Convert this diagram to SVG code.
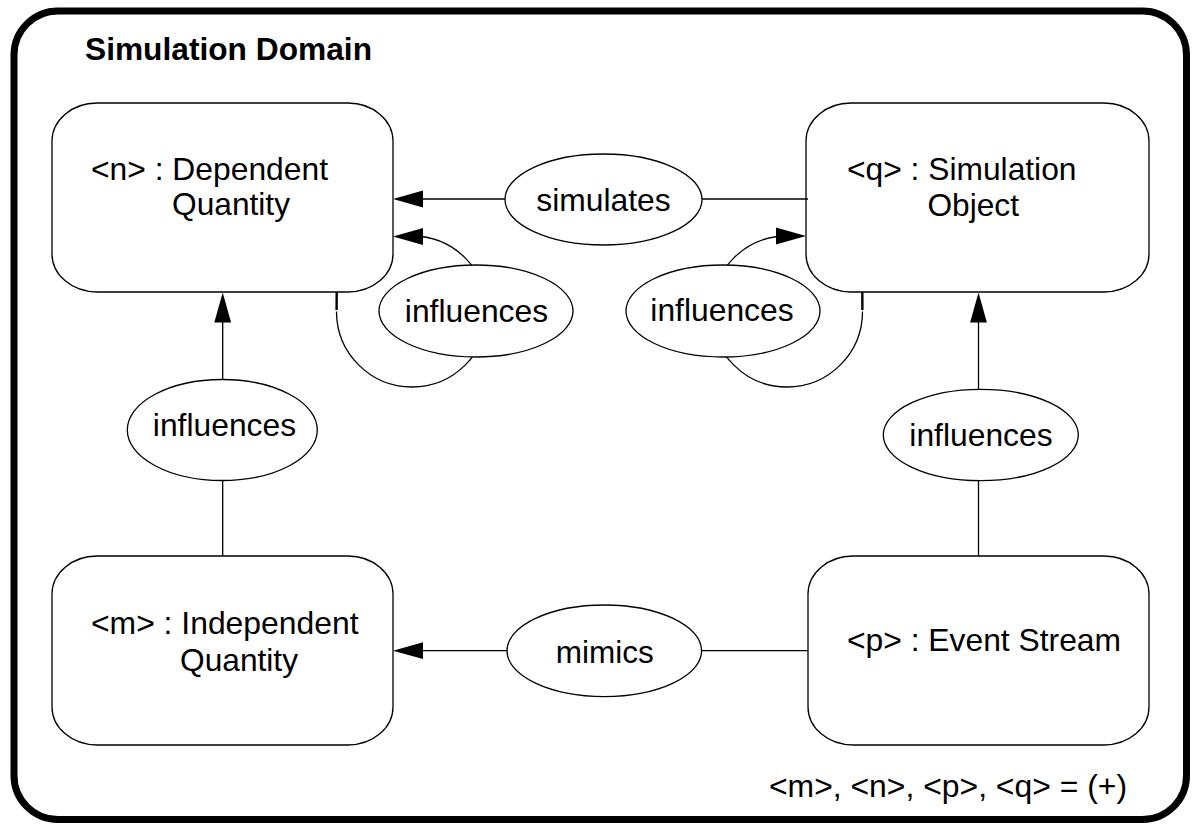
<svg xmlns="http://www.w3.org/2000/svg" xmlns:xlink="http://www.w3.org/1999/xlink" width="1194" height="824" viewBox="0 0 1194 824">
  <style>
    .frame { fill: #ffffff; stroke: #000000; stroke-width: 7; }
    .box { fill: #ffffff; stroke: #000000; stroke-width: 1.3; }
    .rel { fill: #ffffff; stroke: #000000; stroke-width: 1.3; }
    .edge { fill: none; stroke: #000000; stroke-width: 1.3; }
    .tail { fill: none; stroke: #000000; stroke-width: 2.4; }
    .head { fill: #000000; stroke: none; }
    text { font-family: "Liberation Sans", Arial, Helvetica, sans-serif; fill: #000000; }
    .label { font-size: 30.5px; }
    .title { font-size: 30.5px; font-weight: bold; }
  </style>
  <defs>
    <!-- filled arrowhead, tip at the origin, pointing along +x -->
    <polygon id="ah" class="head" points="0,0 -30,-8.4 -30,8.4"/>
  </defs>

  <!-- domain boundary -->
  <g id="domain">
    <rect class="frame" x="14" y="11" width="1172.5" height="808.5" rx="44" ry="44"/>
    <text class="title" x="85" y="60" textLength="287" lengthAdjust="spacingAndGlyphs">Simulation Domain</text>
  </g>

  <!-- object nodes -->
  <g id="node-n">
    <rect class="box" x="52" y="103" width="341" height="189" rx="45" ry="38"/>
    <text class="label" x="91" y="180" textLength="237" lengthAdjust="spacingAndGlyphs">&lt;n&gt; : Dependent</text>
    <text class="label" x="172" y="215" textLength="118" lengthAdjust="spacingAndGlyphs">Quantity</text>
  </g>
  <g id="node-q">
    <rect class="box" x="806" y="103" width="343" height="189" rx="45" ry="38"/>
    <text class="label" x="847" y="179.5" textLength="229.5" lengthAdjust="spacingAndGlyphs">&lt;q&gt; : Simulation</text>
    <text class="label" x="927.5" y="216" textLength="91.5" lengthAdjust="spacingAndGlyphs">Object</text>
  </g>
  <g id="node-m">
    <rect class="box" x="52" y="556" width="341" height="189" rx="45" ry="38"/>
    <text class="label" x="91" y="634" textLength="267.5" lengthAdjust="spacingAndGlyphs">&lt;m&gt; : Independent</text>
    <text class="label" x="180" y="671" textLength="118" lengthAdjust="spacingAndGlyphs">Quantity</text>
  </g>
  <g id="node-p">
    <rect class="box" x="808" y="556" width="341" height="189" rx="45" ry="38"/>
    <text class="label" x="847" y="651" textLength="274" lengthAdjust="spacingAndGlyphs">&lt;p&gt; : Event Stream</text>
  </g>

  <!-- connectors -->
  <g id="connectors">
    <!-- q simulates n -->
    <line class="edge" x1="808" y1="199" x2="410" y2="199"/>
    <use xlink:href="#ah" href="#ah" transform="translate(393,199) rotate(180)"/>
    <!-- m influences n -->
    <line class="edge" x1="222.7" y1="556" x2="222.7" y2="310"/>
    <use xlink:href="#ah" href="#ah" transform="translate(222.7,292.5) rotate(-90)"/>
    <!-- p influences q -->
    <line class="edge" x1="978.5" y1="556" x2="978.5" y2="310"/>
    <use xlink:href="#ah" href="#ah" transform="translate(978.5,292.5) rotate(-90)"/>
    <!-- p mimics m -->
    <line class="edge" x1="808" y1="650.7" x2="410" y2="650.7"/>
    <use xlink:href="#ah" href="#ah" transform="translate(393,650.7) rotate(180)"/>
    <!-- n influences n (self loop) -->
    <line class="tail" x1="336.7" y1="292" x2="336.6" y2="310"/>
    <path class="edge" d="M336.5,311.5 A75.5,75.5 0 1 0 412,236"/>
    <use xlink:href="#ah" href="#ah" transform="translate(393,236.5) rotate(180)"/>
    <!-- q influences q (self loop) -->
    <line class="tail" x1="862.3" y1="292" x2="862.4" y2="310"/>
    <path class="edge" d="M862.5,311.5 A75.5,75.5 0 1 1 787,236"/>
    <use xlink:href="#ah" href="#ah" transform="translate(806,236) rotate(0)"/>
  </g>

  <!-- relationship nodes -->
  <g id="rel-simulates">
    <ellipse class="rel" cx="603.5" cy="199.5" rx="98.5" ry="45.5"/>
    <text class="label" x="603.5" y="210.5" text-anchor="middle" textLength="134.5" lengthAdjust="spacingAndGlyphs">simulates</text>
  </g>
  <g id="rel-influences-n">
    <ellipse class="rel" cx="476" cy="311" rx="97" ry="46"/>
    <text class="label" x="476.5" y="321.7" text-anchor="middle" textLength="143.3" lengthAdjust="spacingAndGlyphs">influences</text>
  </g>
  <g id="rel-influences-q">
    <ellipse class="rel" cx="723" cy="311" rx="97" ry="46"/>
    <text class="label" x="722" y="320.7" text-anchor="middle" textLength="143.3" lengthAdjust="spacingAndGlyphs">influences</text>
  </g>
  <g id="rel-influences-mn">
    <ellipse class="rel" cx="222.3" cy="430" rx="95" ry="50.5"/>
    <text class="label" x="224.5" y="435.7" text-anchor="middle" textLength="143.3" lengthAdjust="spacingAndGlyphs">influences</text>
  </g>
  <g id="rel-influences-pq">
    <ellipse class="rel" cx="980.8" cy="435" rx="97.5" ry="45.7"/>
    <text class="label" x="981" y="445.7" text-anchor="middle" textLength="143.3" lengthAdjust="spacingAndGlyphs">influences</text>
  </g>
  <g id="rel-mimics">
    <ellipse class="rel" cx="604.3" cy="650.8" rx="97.3" ry="45.8"/>
    <text class="label" x="604.7" y="663.3" text-anchor="middle" textLength="98" lengthAdjust="spacingAndGlyphs">mimics</text>
  </g>

  <!-- multiplicity note -->
  <g id="note">
    <text class="label" x="769" y="797" textLength="358" lengthAdjust="spacingAndGlyphs">&lt;m&gt;, &lt;n&gt;, &lt;p&gt;, &lt;q&gt; = (+)</text>
  </g>
</svg>
